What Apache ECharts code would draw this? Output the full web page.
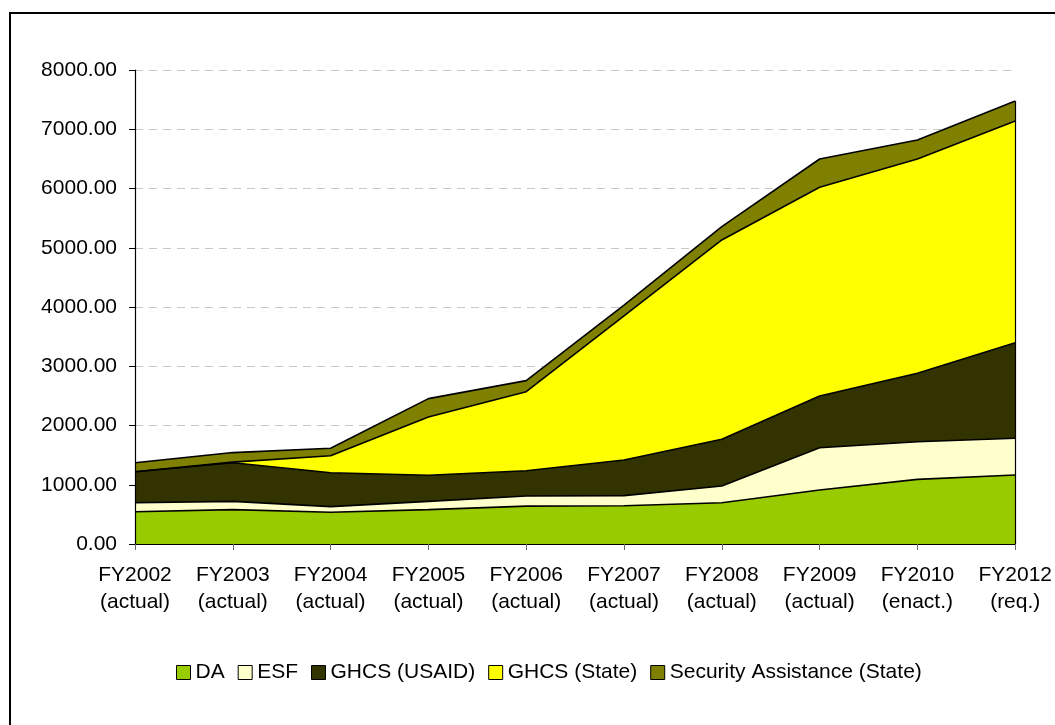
<!DOCTYPE html>
<html>
<head>
<meta charset="utf-8">
<script src="https://cdn.jsdelivr.net/npm/echarts@6/dist/echarts.min.js"></script>
<style>
html,body{margin:0;padding:0;background:#fff;}
#chart{width:1055px;height:725px;}
</style>
</head>
<body>
<div id="chart"></div>
<script>
const categories = ['FY2002\n(actual)','FY2003\n(actual)','FY2004\n(actual)','FY2005\n(actual)','FY2006\n(actual)','FY2007\n(actual)','FY2008\n(actual)','FY2009\n(actual)','FY2010\n(enact.)','FY2012\n(req.)'];
const seriesNames = ['DA','ESF','GHCS (USAID)','GHCS (State)','Security Assistance (State)'];
const daValues       = [545, 580, 535, 580, 640, 645, 697, 911, 1090, 1165];
const esfValues      = [152, 140, 95, 140, 170, 171, 282, 714, 637, 619];
const ghcsUsaidValues= [523, 652, 573, 440, 427, 602, 788, 873, 1154, 1613];
const ghcsStateValues= [0, 10, 287, 985, 1334, 2432, 3364, 3522, 3617, 3742];
const securityValues = [152, 161, 125, 308, 186, 180, 224, 478, 321, 338];
const yTicks = {min: 0, max: 8000, interval: 1000};

const colors = ['#99CC00','#FFFFCC','#333300','#FFFF00','#808000'];
const allValues = [daValues, esfValues, ghcsUsaidValues, ghcsStateValues, securityValues];
const FONT = 'Liberation Sans, Arial, sans-serif';

const lastIdx = categories.length - 1;
const total = allValues.reduce((s, arr) => s + arr[lastIdx], 0);

const series = seriesNames.map((name, i) => {
  const s = {
    name: name,
    type: 'line',
    stack: 'total',
    data: allValues[i],
    showSymbol: false,
    symbol: 'none',
    lineStyle: {color: '#000', width: 1.6},
    areaStyle: {color: colors[i], opacity: 1},
    itemStyle: {color: colors[i], borderColor: '#000', borderWidth: 1},
    emphasis: {disabled: true},
    z: 2
  };
  if (i === seriesNames.length - 1) {
    s.markLine = {
      silent: true,
      symbol: 'none',
      label: {show: false},
      lineStyle: {color: '#000', width: 1.2, type: 'solid'},
      data: [[{coord: [lastIdx, 0]}, {coord: [lastIdx, total]}]]
    };
  }
  return s;
});

const chart = echarts.init(document.getElementById('chart'), null, {renderer: 'canvas'});
chart.setOption({
  animation: false,
  backgroundColor: '#fff',
  textStyle: {fontFamily: FONT, color: '#000'},
  graphic: [{
    type: 'rect',
    shape: {x: 10, y: 13, width: 1200, height: 900},
    style: {fill: 'none', stroke: '#000', lineWidth: 2},
    z: 100, silent: true
  }],
  grid: {left: 135, right: 36, top: 70, bottom: 181, containLabel: false},
  legend: {
    bottom: 37,
    left: 171,
    itemWidth: 14,
    itemHeight: 14,
    itemGap: 13,
    icon: 'rect',
    textStyle: {fontFamily: FONT, fontSize: 21, color: '#000'},
    data: seriesNames.map((n, i) => ({name: n, itemStyle: {color: colors[i], borderColor: '#000', borderWidth: 1}}))
  },
  xAxis: {
    type: 'category',
    data: categories,
    boundaryGap: false,
    axisLine: {lineStyle: {color: '#000', width: 1.2}},
    axisTick: {show: true, alignWithLabel: true, interval: 0, length: 6, lineStyle: {color: '#666'}},
    axisLabel: {interval: 0, margin: 18, fontFamily: FONT, fontSize: 21, color: '#000', lineHeight: 27},
    splitLine: {show: false},
    z: 3
  },
  yAxis: [{
    type: 'value',
    min: yTicks.min, max: yTicks.max, interval: yTicks.interval,
    axisLine: {show: false},
    axisTick: {show: false},
    axisLabel: {margin: 18, fontFamily: FONT, fontSize: 21, color: '#000', formatter: v => v.toFixed(2)},
    splitLine: {show: true, lineStyle: {color: '#c8c8c8', type: [8, 6], width: 1}},
    z: 0
  }, {
    type: 'value',
    position: 'left',
    offset: 0,
    min: yTicks.min, max: yTicks.max, interval: yTicks.interval,
    axisLine: {show: true, lineStyle: {color: '#000', width: 1.2}},
    axisTick: {show: true, length: 6, lineStyle: {color: '#000'}},
    axisLabel: {show: false},
    splitLine: {show: false},
    z: 3
  }],
  series: series
});
</script>
</body>
</html>
